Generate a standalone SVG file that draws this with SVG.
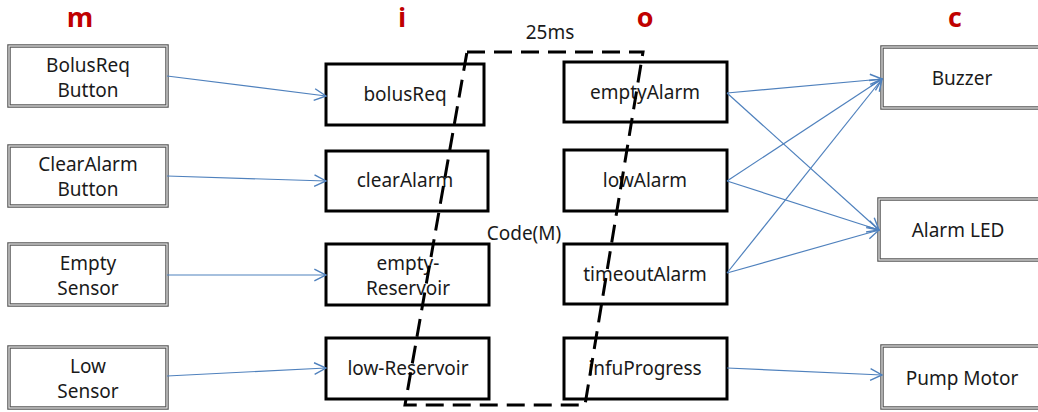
<svg xmlns="http://www.w3.org/2000/svg" width="1038" height="412" viewBox="0 0 1038 412">
<defs>
<marker id="arr" markerUnits="userSpaceOnUse" markerWidth="14" markerHeight="14" refX="11" refY="6" orient="auto" viewBox="0 0 12 12">
<path d="M1,1 L11,6 L1,11" fill="none" stroke="#4F81BD" stroke-width="1.2"/>
</marker>
</defs>
<style>
.hd{font-family:"Open Sans","Noto Sans",sans-serif;font-weight:bold;font-size:27px;fill:#C00000;text-anchor:middle}
.t{font-family:"Noto Sans","Open Sans",sans-serif;font-size:19px;fill:#1a1a1a;text-anchor:middle}
.dbo{fill:#fff;stroke:#555;stroke-width:3.5}
.dbi{fill:none;stroke:#e8e8e8;stroke-width:1.2}
.bk{fill:#fff;stroke:#000;stroke-width:3}
.cn{fill:none;stroke:#4F81BD;stroke-width:1.2;marker-end:url(#arr)}
.dash{fill:none;stroke:#000;stroke-width:3;stroke-dasharray:18 9}
</style>
<rect width="1038" height="412" fill="#fff"/>
<g id="headers">
<text class="hd" x="80" y="27">m</text>
<text class="hd" x="402" y="27">i</text>
<text class="hd" x="645" y="27">o</text>
<text class="hd" x="955" y="27">c</text>
</g>
<g id="m-bolusreq"><rect class="dbo" x="9" y="46" width="158" height="60"/><rect class="dbi" x="9" y="46" width="158" height="60"/><text class="t" x="88" y="72">BolusReq</text><text class="t" x="88" y="97">Button</text></g>
<g id="m-clearalarm"><rect class="dbo" x="9" y="146" width="158" height="60"/><rect class="dbi" x="9" y="146" width="158" height="60"/><text class="t" x="88" y="171">ClearAlarm</text><text class="t" x="88" y="196">Button</text></g>
<g id="m-empty"><rect class="dbo" x="9" y="244" width="158" height="61"/><rect class="dbi" x="9" y="244" width="158" height="61"/><text class="t" x="88" y="270">Empty</text><text class="t" x="88" y="295">Sensor</text></g>
<g id="m-low"><rect class="dbo" x="9" y="347" width="158" height="61"/><rect class="dbi" x="9" y="347" width="158" height="61"/><text class="t" x="88" y="373">Low</text><text class="t" x="88" y="398">Sensor</text></g>
<g id="i-bolusreq"><rect class="bk" x="326" y="64" width="158" height="61"/><text class="t" x="405" y="101">bolusReq</text></g>
<g id="i-clearalarm"><rect class="bk" x="326" y="151" width="162" height="60"/><text class="t" x="405" y="187">clearAlarm</text></g>
<g id="i-emptyreservoir"><rect class="bk" x="326" y="244" width="163" height="61"/><text class="t" x="408" y="270">empty-</text><text class="t" x="408" y="295">Reservoir</text></g>
<g id="i-lowreservoir"><rect class="bk" x="326" y="338" width="163" height="61"/><text class="t" x="408" y="375">low-Reservoir</text></g>
<g id="o-emptyalarm"><rect class="bk" x="564" y="62" width="163" height="60"/><text class="t" x="645" y="99">emptyAlarm</text></g>
<g id="o-lowalarm"><rect class="bk" x="564" y="150" width="163" height="61"/><text class="t" x="645" y="187">lowAlarm</text></g>
<g id="o-timeoutalarm"><rect class="bk" x="564" y="244" width="163" height="60"/><text class="t" x="645" y="281">timeoutAlarm</text></g>
<g id="o-infuprogress"><rect class="bk" x="564" y="338" width="163" height="61"/><text class="t" x="645" y="375">infuProgress</text></g>
<g id="c-buzzer"><rect class="dbo" x="882" y="47" width="170" height="61"/><rect class="dbi" x="882" y="47" width="170" height="61"/><text class="t" x="962" y="85">Buzzer</text></g>
<g id="c-alarmled"><rect class="dbo" x="879" y="199" width="170" height="61"/><rect class="dbi" x="879" y="199" width="170" height="61"/><text class="t" x="958" y="237">Alarm  LED</text></g>
<g id="c-pumpmotor"><rect class="dbo" x="882" y="346" width="170" height="62"/><rect class="dbi" x="882" y="346" width="170" height="62"/><text class="t" x="962" y="385">Pump Motor</text></g>
<g id="code-boundary">
<path class="dash" d="M467,52 L643,52 L585,405 L405,405 Z"/>
<text class="t" x="550" y="39">25ms</text>
<text class="t" x="524" y="240">Code(M)</text>
</g>
<g id="connectors">
<line class="cn" x1="167" y1="76" x2="326" y2="96"/>
<line class="cn" x1="167" y1="176" x2="326" y2="181"/>
<line class="cn" x1="167" y1="275" x2="326" y2="275"/>
<line class="cn" x1="167" y1="376" x2="326" y2="368"/>
<line class="cn" x1="727" y1="93" x2="882" y2="79"/>
<line class="cn" x1="727" y1="93" x2="879" y2="230"/>
<line class="cn" x1="727" y1="181" x2="882" y2="79"/>
<line class="cn" x1="727" y1="181" x2="879" y2="230"/>
<line class="cn" x1="727" y1="273" x2="882" y2="79"/>
<line class="cn" x1="727" y1="273" x2="879" y2="230"/>
<line class="cn" x1="727" y1="368" x2="882" y2="375"/>
</g>
</svg>
